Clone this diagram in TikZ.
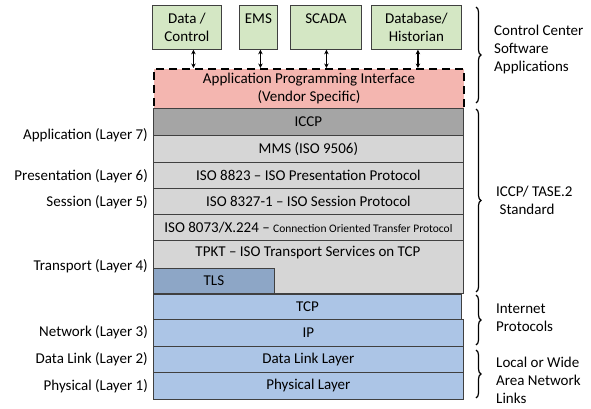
\documentclass[tikz,border=0pt]{standalone}
\usepackage{fontspec}
\setmainfont{Carlito}
\usetikzlibrary{decorations.pathreplacing,arrows.meta}
\definecolor{appgreen}{RGB}{212,231,196}
\definecolor{apipink}{RGB}{244,182,176}
\definecolor{darkgray}{RGB}{165,165,165}
\definecolor{lightgray}{RGB}{214,214,214}
\definecolor{tlsblue}{RGB}{141,166,198}
\definecolor{netblue}{RGB}{172,197,230}
\definecolor{edge}{RGB}{64,64,64}
\tikzset{
  base/.style={font=\fontsize{15}{18}\selectfont},
  appbox/.style={base, draw=edge, line width=0.8pt, fill=appgreen, anchor=north west, inner sep=0pt, align=center},
  layerbox/.style={base, draw=edge, line width=0.8pt, anchor=north west, inner sep=0pt},
  leftlab/.style={base, anchor=east, inner sep=0pt},
  rightlab/.style={base, anchor=west, align=left, inner sep=0pt},
  bracepath/.style={decorate, decoration={brace, amplitude=5pt}, line width=1.2pt},
  arr/.style={{Stealth[length=4.5pt,width=4.5pt]}-{Stealth[length=4.5pt,width=4.5pt]}, line width=1.3pt}
}
\begin{document}
\begin{tikzpicture}[x=1pt,y=-1pt]
\useasboundingbox (0,0) rectangle (591,409);
% top application boxes
\node[appbox, minimum width=69pt, minimum height=44pt] (data) at (152,5) {Data /\\Control};
\node[appbox, minimum width=38pt, minimum height=44pt] (ems) at (239,5) {EMS\\[0pt]\phantom{X}};
\node[appbox, minimum width=71pt, minimum height=44pt] (scada) at (290,5) {SCADA\\[0pt]\phantom{X}};
\node[appbox, minimum width=90pt, minimum height=44pt] (db) at (371,5) {Database/\\Historian};
% API
\node[layerbox, draw=black, dash pattern=on 8pt off 5pt, line width=2pt, fill=apipink, minimum width=310pt, minimum height=40pt, align=center] (api) at (153,68) {Application Programming Interface\\(Vendor Specific)};
% arrows
\draw[arr] ([xshift=6.5pt]data.south) -- ([xshift=6.5pt]data.south |- api.north);
\draw[arr] ([xshift=2pt]ems.south) -- ([xshift=2pt]ems.south |- api.north);
\draw[arr] ([xshift=0.5pt]scada.south) -- ([xshift=0.5pt]scada.south |- api.north);
\draw[arr] ([xshift=1.5pt]db.south) -- ([xshift=1.5pt]db.south |- api.north);
% ICCP stack
\node[layerbox, fill=darkgray, minimum width=310pt, minimum height=27pt] (iccp) at (153,108) {ICCP};
\node[layerbox, fill=lightgray, minimum width=310pt, minimum height=27pt] (mms) at (153,135) {MMS (ISO 9506)};
\node[layerbox, fill=lightgray, minimum width=310pt, minimum height=26pt] (pres) at (153,162) {ISO 8823 – ISO Presentation Protocol};
\node[layerbox, fill=lightgray, minimum width=310pt, minimum height=26pt] (sess) at (153,188) {ISO 8327-1 – ISO Session Protocol};
\node[layerbox, fill=lightgray, minimum width=310pt, minimum height=26pt] (cotp) at (153,214) {ISO 8073/X.224 – {\fontsize{11.5}{13}\selectfont Connection Oriented Transfer Protocol}};
\node[layerbox, fill=lightgray, minimum width=310pt, minimum height=53pt] (tpkt) at (153,240) {};
\node[base, inner sep=0pt] (tpkttext) at (308,253) {TPKT – ISO Transport Services on TCP};
\node[layerbox, fill=tlsblue, minimum width=121pt, minimum height=25pt] (tls) at (153,268) {TLS};
% network
\node[layerbox, fill=netblue, minimum width=308pt, minimum height=25pt] (tcp) at (153,294) {TCP};
\node[layerbox, fill=netblue, minimum width=310pt, minimum height=27pt] (ip) at (153,319) {IP};
\node[layerbox, fill=netblue, minimum width=310pt, minimum height=26pt] (dll) at (153,346) {Data Link Layer};
\node[layerbox, fill=netblue, minimum width=310pt, minimum height=27pt] (phy) at (153,372) {Physical Layer};
% left labels
\node[leftlab] (l7) at (148,135) {Application (Layer 7)};
\node[leftlab] (l6) at (148,176) {Presentation (Layer 6)};
\node[leftlab] (l5) at (148,202) {Session (Layer 5)};
\node[leftlab] (l4) at (148,266) {Transport (Layer 4)};
\node[leftlab] (l3) at (148,332) {Network (Layer 3)};
\node[leftlab] (l2) at (148,359) {Data Link (Layer 2)};
\node[leftlab] (l1) at (148,386) {Physical (Layer 1)};
% braces
\coordinate (b1t) at (476,7);  \coordinate (b1b) at (476,103);
\coordinate (b2t) at (476,109); \coordinate (b2b) at (476,292);
\coordinate (b3t) at (476,295); \coordinate (b3b) at (476,345);
\coordinate (b4t) at (476,350); \coordinate (b4b) at (476,398);
\draw[bracepath] (b1t) -- (b1b);
\draw[bracepath] (b2t) -- (b2b);
\draw[bracepath] (b3t) -- (b3b);
\draw[bracepath] (b4t) -- (b4b);
\node[rightlab] (r1) at (494,50) {Control Center\\Software\\Applications};
\node[rightlab] (r2) at (496,200) {ICCP/ TASE.2\\\hphantom{i}Standard};
\node[rightlab] (r3) at (496,318) {Internet\\Protocols};
\node[rightlab] (r4) at (496,380) {Local or Wide\\Area Network\\Links};
\end{tikzpicture}
\end{document}
